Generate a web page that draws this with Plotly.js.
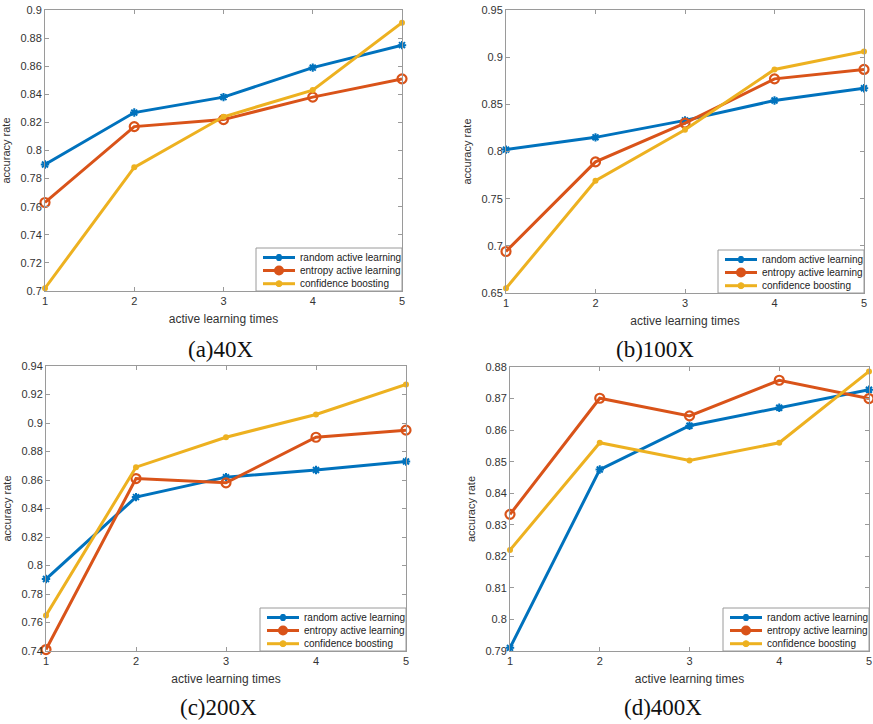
<!DOCTYPE html>
<html>
<head>
<meta charset="utf-8">
<script src="https://cdn.plot.ly/plotly-3.0.1.min.js"></script>
<style>html,body{margin:0;padding:0;background:#fff;}#chart{width:873px;height:724px;}</style>
</head>
<body>
<div id="chart"></div>
<script>
// ---- data ----
const iterations = [1, 2, 3, 4, 5];
const seriesNames = ["random active learning", "entropy active learning", "confidence boosting"];

const randomA = [0.790, 0.827, 0.838, 0.859, 0.875];
const entropyA = [0.763, 0.817, 0.822, 0.838, 0.851];
const confidenceA = [0.702, 0.788, 0.824, 0.843, 0.891];

const randomB = [0.802, 0.815, 0.833, 0.854, 0.867];
const entropyB = [0.694, 0.789, 0.830, 0.877, 0.887];
const confidenceB = [0.655, 0.769, 0.823, 0.887, 0.906];

const randomC = [0.7905, 0.848, 0.862, 0.867, 0.873];
const entropyC = [0.741, 0.861, 0.858, 0.890, 0.895];
const confidenceC = [0.765, 0.869, 0.890, 0.906, 0.927];

const randomD = [0.791, 0.8475, 0.8614, 0.8671, 0.8728];
const entropyD = [0.8333, 0.8701, 0.8645, 0.8758, 0.870];
const confidenceD = [0.822, 0.856, 0.8504, 0.856, 0.8786];

const yTicksA = [0.7, 0.72, 0.74, 0.76, 0.78, 0.8, 0.82, 0.84, 0.86, 0.88, 0.9];
const yTickTextA = ["0.7", "0.72", "0.74", "0.76", "0.78", "0.8", "0.82", "0.84", "0.86", "0.88", "0.9"];
const yTicksB = [0.65, 0.7, 0.75, 0.8, 0.85, 0.9, 0.95];
const yTickTextB = ["0.65", "0.7", "0.75", "0.8", "0.85", "0.9", "0.95"];
const yTicksC = [0.74, 0.76, 0.78, 0.8, 0.82, 0.84, 0.86, 0.88, 0.9, 0.92, 0.94];
const yTickTextC = ["0.74", "0.76", "0.78", "0.8", "0.82", "0.84", "0.86", "0.88", "0.9", "0.92", "0.94"];
const yTicksD = [0.79, 0.8, 0.81, 0.82, 0.83, 0.84, 0.85, 0.86, 0.87, 0.88];
const yTickTextD = ["0.79", "0.8", "0.81", "0.82", "0.83", "0.84", "0.85", "0.86", "0.87", "0.88"];

const captions = ["(a)40X", "(b)100X", "(c)200X", "(d)400X"];
const xTitle = "active learning times";
const yTitle = "accuracy rate";

// ---- styling ----
const W = 873, H = 724;
const colors = ["#0072BD", "#D95319", "#EDB120"];
const markers = [
  {symbol: "asterisk-open", size: 7, line: {width: 2}},
  {symbol: "circle-open", size: 9, line: {width: 2.2}},
  {symbol: "circle", size: 6}
];

// panel boxes in pixels: [left, right, top, bottom]
const boxes = [
  [45, 402, 10, 291],
  [506, 864, 10, 293],
  [46, 406, 366, 651],
  [510, 869, 367, 651]
];
const yRanges = [[0.7, 0.9], [0.65, 0.95], [0.74, 0.94], [0.79, 0.88]];
const yTicks = [[yTicksA, yTickTextA], [yTicksB, yTickTextB], [yTicksC, yTickTextC], [yTicksD, yTickTextD]];
const panelData = [
  [randomA, entropyA, confidenceA],
  [randomB, entropyB, confidenceB],
  [randomC, entropyC, confidenceC],
  [randomD, entropyD, confidenceD]
];
const captionPos = [[221, 350], [655, 350], [218, 707], [663, 707]];

const px = x => x / W;
const py = y => 1 - y / H;

const traces = [];
const layout = {
  width: W, height: H,
  margin: {l: 0, r: 0, t: 0, b: 0},
  paper_bgcolor: "#fff",
  plot_bgcolor: "#fff",
  font: {family: "Liberation Sans, Arial, sans-serif", color: "#333"},
  showlegend: false,
  annotations: [],
  shapes: []
};

function addLegend(b) {
  const R = b[1], B = b[3];
  const L = R - 146, T = B - 43;
  layout.shapes.push({
    type: "rect", xref: "paper", yref: "paper", layer: "above",
    x0: px(L), x1: px(R), y0: py(B), y1: py(T),
    fillcolor: "#fff", line: {color: "#9a9a9a", width: 1}
  });
  const rows = [B - 33.5, B - 20.5, B - 7.3];
  rows.forEach((yy, s) => {
    const c = colors[s];
    const mx = R - 123;
    layout.shapes.push({
      type: "line", xref: "paper", yref: "paper", layer: "above",
      x0: px(R - 139), x1: px(R - 107), y0: py(yy), y1: py(yy),
      line: {color: c, width: 3}
    });
    if (s === 0) {
      const r = 3.5;
      const d = `M${-r},0L${r},0M${-r * 0.6},${-r * 0.8}L${r * 0.6},${r * 0.8}M${-r * 0.6},${r * 0.8}L${r * 0.6},${-r * 0.8}M0,${-r}L0,${r}`;
      layout.shapes.push({
        type: "path", xref: "paper", yref: "paper", layer: "above",
        xsizemode: "pixel", ysizemode: "pixel", xanchor: px(mx), yanchor: py(yy),
        path: d, line: {color: c, width: 2}
      });
    } else {
      const r = s === 1 ? 4 : 3;
      layout.shapes.push({
        type: "circle", xref: "paper", yref: "paper", layer: "above",
        xsizemode: "pixel", ysizemode: "pixel", xanchor: px(mx), yanchor: py(yy),
        x0: -r, x1: r, y0: -r, y1: r,
        fillcolor: c, line: {color: c, width: s === 1 ? 2 : 1}
      });
    }
    layout.annotations.push({
      xref: "paper", yref: "paper", x: px(R - 104), y: py(yy),
      xanchor: "left", yanchor: "middle", showarrow: false,
      text: seriesNames[s], font: {size: 10, color: "#222"}
    });
  });
}

panelData.forEach((series, p) => {
  const sfx = p === 0 ? "" : String(p + 1);
  series.forEach((vals, s) => {
    traces.push({
      type: "scatter", mode: "lines+markers",
      x: iterations, y: vals,
      name: seriesNames[s],
      xaxis: "x" + sfx, yaxis: "y" + sfx,
      cliponaxis: false,
      line: {color: colors[s], width: 3},
      marker: Object.assign({color: colors[s]}, markers[s])
    });
  });
  const b = boxes[p];
  const axStyle = {
    showline: true, mirror: "ticks", linecolor: "#9a9a9a", linewidth: 1,
    ticks: "inside", ticklen: 4, tickcolor: "#9a9a9a",
    showgrid: false, zeroline: false, automargin: false,
    tickfont: {size: 11, color: "#333", family: "Liberation Sans, Arial, sans-serif"}
  };
  layout["xaxis" + sfx] = Object.assign({}, axStyle, {
    domain: [px(b[0]), px(b[1])], anchor: "y" + sfx,
    range: [1, 5], tickvals: iterations, ticktext: iterations.map(String),
    title: {text: xTitle, font: {size: 12, color: "#333"}, standoff: 8}
  });
  layout["yaxis" + sfx] = Object.assign({}, axStyle, {
    domain: [py(b[3]), py(b[2])], anchor: "x" + sfx,
    range: yRanges[p], tickvals: yTicks[p][0], ticktext: yTicks[p][1],
    title: {text: yTitle, font: {size: 11, color: "#333"}, standoff: 7}
  });
  addLegend(b);
  layout.annotations.push({
    xref: "paper", yref: "paper",
    x: px(captionPos[p][0]), y: py(captionPos[p][1]),
    xanchor: "center", yanchor: "middle",
    text: captions[p], showarrow: false,
    font: {family: "Liberation Serif, Times New Roman, serif", size: 23, color: "#111"}
  });
});

Plotly.newPlot("chart", traces, layout, {displayModeBar: false, staticPlot: true});
</script>
</body>
</html>
